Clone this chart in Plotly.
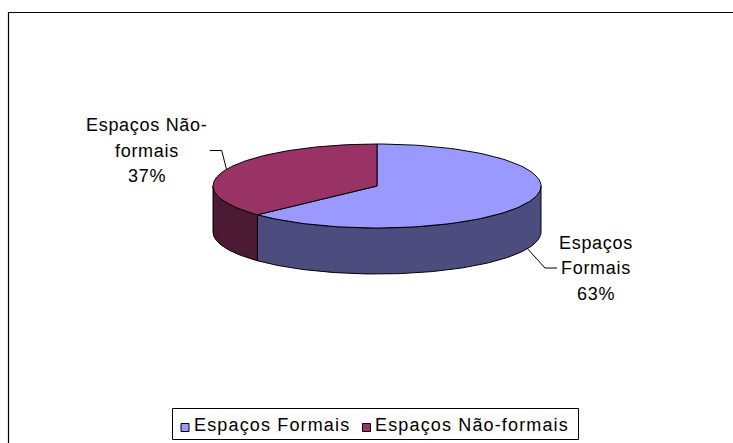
import numpy as np
import plotly.graph_objects as go

# Share of activities by type of space
categories = ["Espaços Formais", "Espaços Não-formais"]
shares = [63, 37]
label_lines = [["Espaços", "Formais"], ["Espaços Não-", "formais"]]

top_colors = ["#9999FF", "#993366"]
side_colors = ["#4C4C7E", "#4C1A33"]

W, H = 733, 443
FONT = "Liberation Sans, Arial, sans-serif"
FS = 18


def spaced(txt, ls):
    return f'<span style="letter-spacing:{ls}px">{txt}</span>'


# Ellipse geometry of the tilted pie (pixel space)
cx, cy = 377.0, 186.0
rx, ry = 164.0, 42.0
depth = 46.0


def rim(theta_deg, dz=0.0):
    t = np.radians(theta_deg)
    return cx + rx * np.sin(t), cy - ry * np.cos(t) + dz


def arc(a0, a1, dz=0.0, n=120):
    th = np.linspace(a0, a1, n)
    xs, ys = rim(th, dz)
    return list(xs), list(ys)


total = float(sum(shares))
bounds = np.concatenate([[0.0], np.cumsum(shares) / total * 360.0])

fig = go.Figure()

# Visible front wall of each slice (angles 90..270, clockwise from 12 o'clock)
for i in range(len(shares)):
    a0, a1 = max(bounds[i], 90.0), min(bounds[i + 1], 270.0)
    if a1 <= a0:
        continue
    tx, ty = arc(a0, a1)
    bx, by = arc(a1, a0, depth)
    fig.add_trace(go.Scatter(
        x=tx + bx + [tx[0]], y=ty + by + [ty[0]],
        mode="lines", fill="toself", fillcolor=side_colors[i],
        line=dict(color="black", width=1), hoverinfo="skip", showlegend=False))

# Top faces
for i in range(len(shares)):
    ax_, ay_ = arc(bounds[i], bounds[i + 1])
    fig.add_trace(go.Scatter(
        x=[cx] + ax_ + [cx], y=[cy] + ay_ + [cy],
        mode="lines", fill="toself", fillcolor=top_colors[i],
        line=dict(color="black", width=1), hoverinfo="skip", showlegend=False))

# Data labels with leader lines
label_pos = [(596.0, 268.0), (146.7, 150.5)]
line_gap = 25.5
for i, v in enumerate(shares):
    mid = (bounds[i] + bounds[i + 1]) / 2.0
    lx, ly = label_pos[i]
    texts = label_lines[i] + [f"{v}%"]
    n = len(texts)
    for k, t in enumerate(texts):
        fig.add_annotation(x=lx, y=ly + (k - (n - 1) / 2.0) * line_gap,
                           text=spaced(t, 0.7), showarrow=False,
                           xanchor="center", yanchor="middle",
                           font=dict(family=FONT, size=FS, color="black"))
    if 90 <= mid <= 270:
        sx, sy = rim(mid, depth)
    else:
        sx, sy = rim(mid)
    if lx > cx:
        ex = lx - 39.0
        fig.add_trace(go.Scatter(x=[sx, ex - 12.0, ex], y=[sy, ly, ly], mode="lines",
                                 line=dict(color="black", width=1),
                                 hoverinfo="skip", showlegend=False))
    else:
        ex = lx + 63.0
        fig.add_trace(go.Scatter(x=[sx, ex + 12.0, ex], y=[sy, ly, ly], mode="lines",
                                 line=dict(color="black", width=1),
                                 hoverinfo="skip", showlegend=False))

# Legend
leg_x = [185.0, 366.5]
leg_y = 427.5
for i, name in enumerate(categories):
    fig.add_trace(go.Scatter(x=[leg_x[i]], y=[leg_y], mode="markers",
                             marker=dict(symbol="square", size=8, color=top_colors[i],
                                         line=dict(color="black", width=1)),
                             hoverinfo="skip", showlegend=False))
    fig.add_annotation(x=leg_x[i] + 6.5, y=424.5, text=spaced(name, 1.15), showarrow=False,
                       xanchor="left", yanchor="middle",
                       font=dict(family=FONT, size=FS, color="black"))

fig.add_shape(type="rect", x0=172.5, y0=408.5, x1=578.5, y1=439.5,
              line=dict(color="black", width=1), fillcolor="rgba(0,0,0,0)", layer="below")
# Chart area frame
fig.add_shape(type="rect", x0=8.5, y0=12.5, x1=W + 10, y1=H + 10,
              line=dict(color="black", width=1.2), fillcolor="rgba(0,0,0,0)")

fig.update_layout(
    width=W, height=H, margin=dict(l=0, r=0, t=0, b=0),
    paper_bgcolor="white", plot_bgcolor="white",
    xaxis=dict(range=[0, W], visible=False, fixedrange=True),
    yaxis=dict(range=[H, 0], visible=False, fixedrange=True),
    showlegend=False,
)

fig.write_html("out.html")
